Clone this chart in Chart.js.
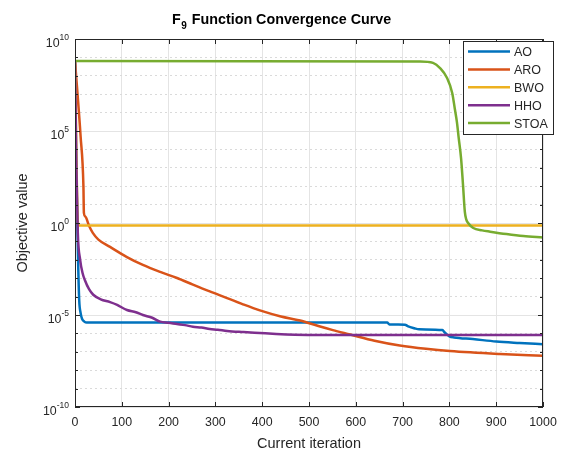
<!DOCTYPE html>
<html>
<head>
<meta charset="utf-8">
<script src="https://cdn.jsdelivr.net/npm/chart.js@4.4.0/dist/chart.umd.min.js"></script>
<style>
    html, body { margin: 0; padding: 0; background: #fff; }
    #wrap { position: relative; width: 570px; height: 455px; }
</style>
</head>
<body>
<div id="wrap"><canvas id="conv"></canvas></div>
<script>
(function () {
    'use strict';

    // curves: iteration and log10 of the objective value
    var seriesNames = ['AO', 'ARO', 'BWO', 'HHO', 'STOA'];
    var seriesColors = ['#0072BD', '#D95319', '#EDB120', '#7E2F8E', '#77AC30'];

    var aoIter = [0, 2, 4, 7, 9, 12, 15, 20, 25, 667, 672, 705, 712, 725, 735, 785, 790, 800, 810, 850, 900, 950, 1000];
    var aoExp = [8.8, 4, 1.2, -2.5, -4.2, -4.9, -5.2, -5.36, -5.41, -5.41, -5.51, -5.53, -5.62, -5.72, -5.78, -5.82, -5.95, -6.16, -6.22, -6.31, -6.44, -6.52, -6.59];

    var aroIter = [0, 12, 18, 19, 22, 30, 38, 50, 75, 111, 145, 182, 218, 252, 288, 325, 359, 395, 440, 481, 520, 551, 588, 640, 694, 750, 801, 908, 1000];
    var aroExp = [8.8, 4.7, 2.0, 0.55, 0.35, -0.15, -0.54, -0.9, -1.3, -1.85, -2.28, -2.66, -2.99, -3.35, -3.72, -4.08, -4.42, -4.75, -5.08, -5.3, -5.6, -5.82, -6.06, -6.4, -6.66, -6.84, -6.96, -7.12, -7.22];

    var bwoIter = [0, 6, 8, 1000];
    var bwoExp = [8.8, 0.1, -0.13, -0.13];

    var hhoIter = [0, 3, 6, 11, 16, 21, 30, 39, 55, 75, 90, 111, 130, 145, 165, 182, 200, 218, 235, 252, 270, 288, 305, 325, 360, 395, 430, 470, 520, 1000];
    var hhoExp = [8.8, 3, -0.54, -2.0, -2.7, -3.1, -3.6, -3.9, -4.15, -4.3, -4.45, -4.73, -4.85, -5.0, -5.15, -5.36, -5.42, -5.49, -5.55, -5.64, -5.68, -5.76, -5.8, -5.87, -5.93, -5.98, -6.03, -6.07, -6.09, -6.09];

    var stoaIter = [0, 737, 765, 780, 795, 806, 812, 816, 820, 825, 829, 833, 836, 840, 851, 870, 887, 922, 958, 1000];
    var stoaExp = [8.8, 8.78, 8.7, 8.42, 7.88, 7.07, 6.14, 5.5, 4.6, 3.5, 2.1, 0.6, 0.2, 0.0, -0.27, -0.4, -0.47, -0.6, -0.71, -0.79];

    var xTicks = [0, 100, 200, 300, 400, 500, 600, 700, 800, 900, 1000];
    var yExps = [-10, -9, -8, -7, -6, -5, -4, -3, -2, -1, 0, 1, 2, 3, 4, 5, 6, 7, 8, 9, 10];
    var yLabelExps = [-10, -5, 0, 5, 10];

    var font = '"Liberation Sans", Arial, Helvetica, sans-serif';
    var axisColor = '#262626';

    function points(iters, exps) {
        return iters.map(function (x, i) { return { x: x, y: Math.pow(10, exps[i]) }; });
    }

    var curves = [[aoIter, aoExp], [aroIter, aroExp], [bwoIter, bwoExp], [hhoIter, hhoExp], [stoaIter, stoaExp]];
    var datasets = curves.map(function (c, i) {
        return {
            label: seriesNames[i],
            data: points(c[0], c[1]),
            borderColor: seriesColors[i],
            backgroundColor: seriesColors[i],
            borderWidth: 2.5,
            pointRadius: 0,
            fill: false,
            cubicInterpolationMode: 'monotone',
            borderJoinStyle: 'round',
            borderCapStyle: 'round',
            order: seriesNames.length - i
        };
    });

    function isMajor(ctx) {
        if (!ctx.tick) return false;
        return Math.round(Math.log10(ctx.tick.value)) % 5 === 0;
    }

    var matlabAxes = {
        id: 'matlabAxes',
        afterDatasetsDraw: function (chart) {
            var ctx = chart.ctx, a = chart.chartArea;
            var xs = chart.scales.x, ys = chart.scales.y;
            ctx.save();
            ctx.strokeStyle = axisColor;
            ctx.lineWidth = 1;
            ctx.beginPath();
            xTicks.forEach(function (v) {
                var px = Math.round(xs.getPixelForValue(v)) + 0.5;
                ctx.moveTo(px, a.bottom); ctx.lineTo(px, a.bottom - 5);
                ctx.moveTo(px, a.top); ctx.lineTo(px, a.top + 5);
            });
            yExps.forEach(function (e) {
                var py = Math.round(ys.getPixelForValue(Math.pow(10, e))) + 0.5;
                var len = e % 5 === 0 ? 5 : 3;
                ctx.moveTo(a.left, py); ctx.lineTo(a.left + len, py);
                ctx.moveTo(a.right, py); ctx.lineTo(a.right - len, py);
            });
            ctx.stroke();
            ctx.strokeRect(a.left + 0.5, a.top + 0.5, a.right - a.left - 1, a.bottom - a.top - 1);
            ctx.restore();
        },
        afterDraw: function (chart) {
            var ctx = chart.ctx, a = chart.chartArea, ys = chart.scales.y;
            ctx.save();

            // y tick labels 10^n
            ctx.fillStyle = axisColor;
            ctx.textBaseline = 'alphabetic';
            ctx.textAlign = 'left';
            yLabelExps.forEach(function (e) {
                var py = ys.getPixelForValue(Math.pow(10, e));
                var sup = e < 0 ? '-' + (-e) : String(e);
                ctx.font = '8.5px ' + font;
                var w2 = ctx.measureText(sup).width;
                ctx.font = '12.4px ' + font;
                var w1 = ctx.measureText('10').width;
                var right = a.left - 6;
                ctx.fillText('10', right - w2 - w1, py + 8);
                ctx.font = '8.5px ' + font;
                ctx.fillText(sup, right - w2, py + 1);
            });

            // title with subscript
            ctx.fillStyle = '#000';
            ctx.font = 'bold 14.3px ' + font;
            var tx = 172;
            ctx.fillText('F', tx, 24);
            tx += ctx.measureText('F').width + 0.5;
            ctx.font = 'bold 10px ' + font;
            ctx.fillText('9', tx, 29);
            tx += ctx.measureText('9').width + 1;
            ctx.font = 'bold 14.3px ' + font;
            ctx.fillText(' Function Convergence Curve', tx, 24);

            // axis titles
            ctx.fillStyle = axisColor;
            ctx.font = '14.5px ' + font;
            ctx.textAlign = 'center';
            ctx.fillText('Current iteration', (a.left + a.right) / 2, 448);
            ctx.save();
            ctx.translate(27, (a.top + a.bottom) / 2);
            ctx.rotate(-Math.PI / 2);
            ctx.fillText('Objective value', 0, 0);
            ctx.restore();

            // legend box
            var lx = 463, ly = 41, lw = 90, lh = 93;
            ctx.fillStyle = '#fff';
            ctx.fillRect(lx, ly, lw, lh);
            ctx.strokeStyle = axisColor;
            ctx.lineWidth = 1;
            ctx.strokeRect(lx + 0.5, ly + 0.5, lw, lh);
            ctx.font = '12.5px ' + font;
            ctx.textAlign = 'left';
            ctx.textBaseline = 'middle';
            chart.data.datasets.forEach(function (ds, i) {
                var ry = ly + 10.5 + i * 17.9;
                ctx.strokeStyle = ds.borderColor;
                ctx.lineWidth = 2.5;
                ctx.beginPath();
                ctx.moveTo(lx + 5, ry); ctx.lineTo(lx + 47, ry);
                ctx.stroke();
                ctx.fillStyle = axisColor;
                ctx.fillText(ds.label, lx + 51, ry + 1);
            });
            ctx.restore();
        }
    };

    new Chart(document.getElementById('conv').getContext('2d'), {
        type: 'line',
        data: { datasets: datasets },
        options: {
            responsive: true,
            maintainAspectRatio: false,
            animation: false,
            devicePixelRatio: 1,
            layout: { padding: { top: 39, right: 27, left: 0, bottom: 0 } },
            plugins: {
                legend: { display: false },
                title: { display: false },
                tooltip: { enabled: false }
            },
            scales: {
                x: {
                    type: 'linear',
                    min: 0,
                    max: 1000,
                    afterBuildTicks: function (s) { s.ticks = xTicks.map(function (v) { return { value: v }; }); },
                    afterFit: function (s) { s.height = 48; },
                    ticks: {
                        autoSkip: false, maxRotation: 0, padding: 8, color: axisColor,
                        font: { family: font, size: 12.4 },
                        callback: function (v) { return String(v); }
                    },
                    grid: { color: '#e4e4e4', lineWidth: 1, drawTicks: false },
                    border: { display: false }
                },
                y: {
                    type: 'logarithmic',
                    min: 1e-10,
                    max: 1e10,
                    afterBuildTicks: function (s) {
                        s.ticks = yExps.map(function (e) { return { value: Math.pow(10, e), major: e % 5 === 0 }; });
                    },
                    afterFit: function (s) { s.width = 75; },
                    ticks: { display: false, autoSkip: false },
                    grid: {
                        drawTicks: false,
                        lineWidth: 1,
                        color: function (c) { return isMajor(c) ? '#e4e4e4' : '#dadada'; }
                    },
                    border: {
                        display: false,
                        dash: function (c) { return isMajor(c) ? [] : [2, 3]; }
                    }
                }
            }
        },
        plugins: [matlabAxes]
    });
})();
</script>
</body>
</html>
